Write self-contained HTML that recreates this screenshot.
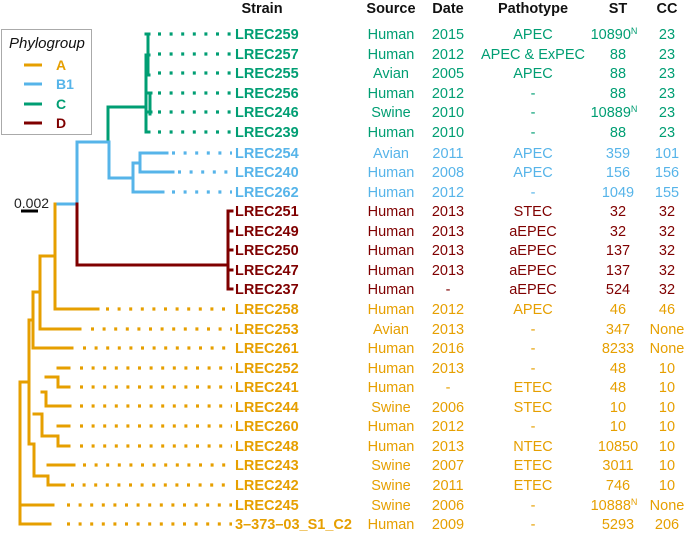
<!DOCTYPE html>
<html><head><meta charset="utf-8"><style>
html,body{margin:0;padding:0;background:#fff;}
svg{display:block;font-family:"Liberation Sans",Arial,sans-serif;}
</style></head><body>
<svg width="685" height="533" viewBox="0 0 685 533" xmlns="http://www.w3.org/2000/svg">
<g fill="none" stroke-width="3" stroke-linecap="square">
<g stroke="#009E73">
<path d="M108 142 V107 H146 M146 55 V132 H149 M148 34 V75 M150 93 V114 M146 34 H149 M146 55 H149 M146 75 H149 M146 93 H151 M146 112 H151"/>
<path d="M158 34 H232 M158 54 H232 M158 73 H232 M158 93 H232 M158 112 H232 M158 132 H232" stroke-width="3.2" stroke-dasharray="3 8.6" stroke-linecap="butt"/>
</g>
<g stroke="#56B4E9">
<path d="M55 204 H77 V142 H109 V178 H133 M133 163 V192 H163 M133 163 H140 M140 153 V172 M140 153 H167 M140 172 H173"/>
<path d="M172 153 H232 M178 172 H232 M172 192 H232" stroke-width="3.2" stroke-dasharray="3 8.6" stroke-linecap="butt"/>
</g>
<g stroke="#7F0000">
<path d="M77 204 V265 H228 M228 211 V289 H232 M228 211 H232 M228 231 H232 M228 250 H232 M228 270 H232"/>
</g>
<g stroke="#E69F00">
<path d="M55 204 V309 H98 M55 256 H40 V329 H80 M40 292 H33 V348 H72 M33 320 H29 V444 M29 382 H20 V524 H50 M20 505 H53 M29 444 H34 V476 M34 414 H42 V436 M42 392 H46 V406 H70 M46 377 H58 V387 H69 M58 368 H69 M42 436 H58 V446 H69 M58 426 H69 M34 476 H48 V485 H64 M48 465 H74"/>
<path d="M103 309 H232 M88 329 H232 M80 348 H232 M77 368 H232 M77 387 H232 M77 406 H232 M77 426 H232 M77 446 H232 M80 465 H232 M68 485 H232 M64 505 H232 M64 524 H232" stroke-width="3.2" stroke-dasharray="3 8.6" stroke-dashoffset="-3" stroke-linecap="butt"/>
</g>
</g>
<text x="14" y="208" font-size="14" fill="#222">0.002</text>
<path d="M21 211 H38" stroke="#000" stroke-width="3"/>
<rect x="1.5" y="29.5" width="90" height="105" fill="#fff" stroke="#aaa" stroke-width="1"/>
<text x="9" y="48" font-size="15" font-style="italic" fill="#111">Phylogroup</text>
<g stroke-width="3">
<path d="M24 65 H42" stroke="#E69F00"/><path d="M24 84 H42" stroke="#56B4E9"/><path d="M24 104 H42" stroke="#009E73"/><path d="M24 123 H42" stroke="#7F0000"/>
</g>
<g font-size="14" font-weight="bold">
<text x="56" y="70" fill="#E69F00">A</text><text x="56" y="89" fill="#56B4E9">B1</text><text x="56" y="109" fill="#009E73">C</text><text x="56" y="128" fill="#7F0000">D</text>
</g>
<g font-size="14.5" font-weight="bold" fill="#111" text-anchor="middle">
<text x="262" y="13">Strain</text><text x="391" y="13">Source</text><text x="448" y="13">Date</text><text x="533" y="13">Pathotype</text><text x="618" y="13">ST</text><text x="667" y="13">CC</text>
</g>
<g font-size="14.5">
<g fill="#009E73">
<text x="235" y="39" font-weight="bold">LREC259</text><text x="235" y="59" font-weight="bold">LREC257</text><text x="235" y="78" font-weight="bold">LREC255</text><text x="235" y="98" font-weight="bold">LREC256</text><text x="235" y="117" font-weight="bold">LREC246</text><text x="235" y="137" font-weight="bold">LREC239</text>
<g text-anchor="middle">
<text x="391" y="39">Human</text><text x="448" y="39">2015</text><text x="533" y="39">APEC</text><text x="614" y="39">10890<tspan font-size="9" dy="-5">N</tspan></text><text x="667" y="39">23</text>
<text x="391" y="59">Human</text><text x="448" y="59">2012</text><text x="533" y="59">APEC &amp; ExPEC</text><text x="618" y="59">88</text><text x="667" y="59">23</text>
<text x="391" y="78">Avian</text><text x="448" y="78">2005</text><text x="533" y="78">APEC</text><text x="618" y="78">88</text><text x="667" y="78">23</text>
<text x="391" y="98">Human</text><text x="448" y="98">2012</text><text x="533" y="98">-</text><text x="618" y="98">88</text><text x="667" y="98">23</text>
<text x="391" y="117">Swine</text><text x="448" y="117">2010</text><text x="533" y="117">-</text><text x="614" y="117">10889<tspan font-size="9" dy="-5">N</tspan></text><text x="667" y="117">23</text>
<text x="391" y="137">Human</text><text x="448" y="137">2010</text><text x="533" y="137">-</text><text x="618" y="137">88</text><text x="667" y="137">23</text>
</g></g>
<g fill="#56B4E9">
<text x="235" y="158" font-weight="bold">LREC254</text><text x="235" y="177" font-weight="bold">LREC240</text><text x="235" y="197" font-weight="bold">LREC262</text>
<g text-anchor="middle">
<text x="391" y="158">Avian</text><text x="448" y="158">2011</text><text x="533" y="158">APEC</text><text x="618" y="158">359</text><text x="667" y="158">101</text>
<text x="391" y="177">Human</text><text x="448" y="177">2008</text><text x="533" y="177">APEC</text><text x="618" y="177">156</text><text x="667" y="177">156</text>
<text x="391" y="197">Human</text><text x="448" y="197">2012</text><text x="533" y="197">-</text><text x="618" y="197">1049</text><text x="667" y="197">155</text>
</g></g>
<g fill="#7F0000">
<text x="235" y="216" font-weight="bold">LREC251</text><text x="235" y="236" font-weight="bold">LREC249</text><text x="235" y="255" font-weight="bold">LREC250</text><text x="235" y="275" font-weight="bold">LREC247</text><text x="235" y="294" font-weight="bold">LREC237</text>
<g text-anchor="middle">
<text x="391" y="216">Human</text><text x="448" y="216">2013</text><text x="533" y="216">STEC</text><text x="618" y="216">32</text><text x="667" y="216">32</text>
<text x="391" y="236">Human</text><text x="448" y="236">2013</text><text x="533" y="236">aEPEC</text><text x="618" y="236">32</text><text x="667" y="236">32</text>
<text x="391" y="255">Human</text><text x="448" y="255">2013</text><text x="533" y="255">aEPEC</text><text x="618" y="255">137</text><text x="667" y="255">32</text>
<text x="391" y="275">Human</text><text x="448" y="275">2013</text><text x="533" y="275">aEPEC</text><text x="618" y="275">137</text><text x="667" y="275">32</text>
<text x="391" y="294">Human</text><text x="448" y="294">-</text><text x="533" y="294">aEPEC</text><text x="618" y="294">524</text><text x="667" y="294">32</text>
</g></g>
<g fill="#E69F00">
<text x="235" y="314" font-weight="bold">LREC258</text><text x="235" y="334" font-weight="bold">LREC253</text><text x="235" y="353" font-weight="bold">LREC261</text><text x="235" y="373" font-weight="bold">LREC252</text><text x="235" y="392" font-weight="bold">LREC241</text><text x="235" y="412" font-weight="bold">LREC244</text><text x="235" y="431" font-weight="bold">LREC260</text><text x="235" y="451" font-weight="bold">LREC248</text><text x="235" y="470" font-weight="bold">LREC243</text><text x="235" y="490" font-weight="bold">LREC242</text><text x="235" y="510" font-weight="bold">LREC245</text><text x="235" y="529" font-weight="bold">3–373–03_S1_C2</text>
<g text-anchor="middle">
<text x="391" y="314">Human</text><text x="448" y="314">2012</text><text x="533" y="314">APEC</text><text x="618" y="314">46</text><text x="667" y="314">46</text>
<text x="391" y="334">Avian</text><text x="448" y="334">2013</text><text x="533" y="334">-</text><text x="618" y="334">347</text><text x="667" y="334">None</text>
<text x="391" y="353">Human</text><text x="448" y="353">2016</text><text x="533" y="353">-</text><text x="618" y="353">8233</text><text x="667" y="353">None</text>
<text x="391" y="373">Human</text><text x="448" y="373">2013</text><text x="533" y="373">-</text><text x="618" y="373">48</text><text x="667" y="373">10</text>
<text x="391" y="392">Human</text><text x="448" y="392">-</text><text x="533" y="392">ETEC</text><text x="618" y="392">48</text><text x="667" y="392">10</text>
<text x="391" y="412">Swine</text><text x="448" y="412">2006</text><text x="533" y="412">STEC</text><text x="618" y="412">10</text><text x="667" y="412">10</text>
<text x="391" y="431">Human</text><text x="448" y="431">2012</text><text x="533" y="431">-</text><text x="618" y="431">10</text><text x="667" y="431">10</text>
<text x="391" y="451">Human</text><text x="448" y="451">2013</text><text x="533" y="451">NTEC</text><text x="618" y="451">10850</text><text x="667" y="451">10</text>
<text x="391" y="470">Swine</text><text x="448" y="470">2007</text><text x="533" y="470">ETEC</text><text x="618" y="470">3011</text><text x="667" y="470">10</text>
<text x="391" y="490">Swine</text><text x="448" y="490">2011</text><text x="533" y="490">ETEC</text><text x="618" y="490">746</text><text x="667" y="490">10</text>
<text x="391" y="510">Swine</text><text x="448" y="510">2006</text><text x="533" y="510">-</text><text x="614" y="510">10888<tspan font-size="9" dy="-5">N</tspan></text><text x="667" y="510">None</text>
<text x="391" y="529">Human</text><text x="448" y="529">2009</text><text x="533" y="529">-</text><text x="618" y="529">5293</text><text x="667" y="529">206</text>
</g></g>
</g>
</svg>
</body></html>
